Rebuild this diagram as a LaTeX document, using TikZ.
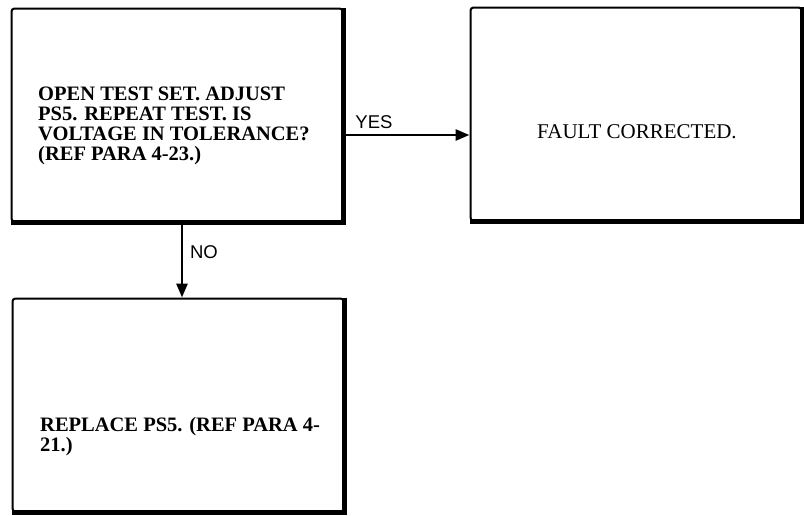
\documentclass[tikz,border=0pt]{standalone}
\usepackage{fontspec}
\setmainfont{Liberation Serif}
\setsansfont{Liberation Sans}
\usetikzlibrary{arrows.meta,positioning,calc}

\begin{document}
\begin{tikzpicture}[x=1pt, y=-1pt, >={Triangle[length=14pt,width=11pt]},
  box/.style={rectangle, draw, line width=2pt, rounded corners=3pt, inner sep=0pt, minimum width=331pt, minimum height=213pt},
  boxedge/.style={line width=5.5pt},
  boxtext/.style={anchor=west, align=left, inner sep=0pt, font=\fontsize{20.5}{20}\selectfont\bfseries},
  flow/.style={->, line width=2.8pt},
  answer/.style={font=\fontsize{18.5}{18.5}\selectfont\sffamily, inner sep=0pt}
  ]
\useasboundingbox (0,0) rectangle (804,515);

% Decision: adjust PS5
\node[box] (adjust) at (177,115) {};
\draw[boxedge] (adjust.north east) -- (adjust.south east) -- (adjust.south west);
\node[boxtext] (adjusttext) at (38,126) {OPEN TEST SET. ADJUST\\PS5. REPEAT TEST. IS\\VOLTAGE IN TOLERANCE?\\(REF PARA 4-23.)};

% Yes branch
\node[box] (fixed) at (636,114) {};
\draw[boxedge] (fixed.north east) -- (fixed.south east) -- (fixed.south west);
\node[boxtext, font=\fontsize{21}{21}\selectfont, anchor=center] (fixedtext) at (637,132) {FAULT CORRECTED.};

% No branch
\node[box] (replace) at (178,405) {};
\draw[boxedge] (replace.north east) -- (replace.south east) -- (replace.south west);
\node[boxtext] (replacetext) at (40,437) {REPLACE PS5. (REF PARA 4-\\21.)};

% Connectors
\coordinate (yesrow) at (0,135);
\coordinate (nocol) at (182,0);
\draw[flow] (adjust.east |- yesrow) -- (fixed.west |- yesrow);
\node[answer] (yes) at (374,122) {YES};
\draw[flow] (adjust.south -| nocol) -- (replace.north -| nocol);
\node[answer] (no) at (204,252) {NO};

\end{tikzpicture}
\end{document}
